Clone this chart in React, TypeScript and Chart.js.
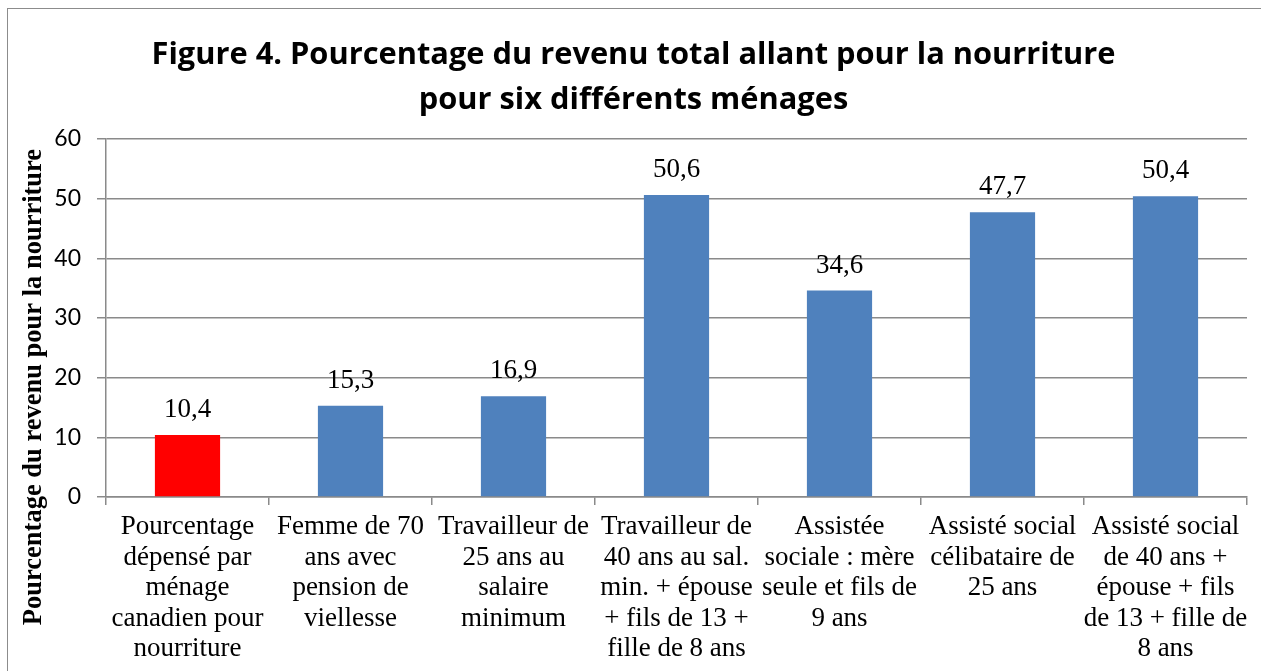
import React, { useEffect, useRef } from "react";
import { Chart, registerables } from "chart.js";

Chart.register(...registerables);

const titleLines = [
  "Figure 4. Pourcentage du revenu total allant pour la nourriture",
  "pour six différents ménages",
];
const yAxisTitle = "Pourcentage du revenu pour la nourriture";
const categories: string[][] = [
  ["Pourcentage", "dépensé par", "ménage", "canadien pour", "nourriture"],
  ["Femme de 70", "ans avec", "pension de", "viellesse"],
  ["Travailleur de", "25 ans au", "salaire", "minimum"],
  ["Travailleur de", "40 ans au sal.", "min. + épouse", "+ fils de 13 +", "fille de 8 ans"],
  ["Assistée", "sociale : mère", "seule et fils de", "9 ans"],
  ["Assisté social", "célibataire de", "25 ans"],
  ["Assisté social", "de 40 ans +", "épouse + fils", "de 13 + fille de", "8 ans"],
];
const values = [10.4, 15.3, 16.9, 50.6, 34.6, 47.7, 50.4];
const barColors = ["#FF0000", "#4F81BD", "#4F81BD", "#4F81BD", "#4F81BD", "#4F81BD", "#4F81BD"];
const yMin = 0;
const yMax = 60;
const yStep = 10;

const W = 1261;
const H = 671;
const GRID = "#8a8a8a";
const SERIF = "'Liberation Serif', 'Times New Roman', serif";
const SANS = "Lato, 'Open Sans', sans-serif";
const TITLE_SANS = "'Open Sans', Lato, sans-serif";

const valueLabels = {
  id: "valueLabels",
  afterDatasetsDraw(chart: any) {
    const ctx = chart.ctx;
    const meta = chart.getDatasetMeta(0);
    ctx.save();
    ctx.font = `27px ${SERIF}`;
    ctx.fillStyle = "#000";
    ctx.textAlign = "center";
    ctx.textBaseline = "alphabetic";
    meta.data.forEach((el: any, i: number) => {
      const v = chart.data.datasets[0].data[i] as number;
      ctx.fillText(v.toFixed(1).replace(".", ","), el.x, el.y - 18);
    });
    ctx.restore();
  },
};

const yTitlePlugin = {
  id: "yTitlePlugin",
  afterDraw(chart: any) {
    const ctx = chart.ctx;
    ctx.save();
    ctx.translate(41, 387);
    ctx.rotate(-Math.PI / 2);
    ctx.font = `bold 26.5px ${SERIF}`;
    ctx.fillStyle = "#000";
    ctx.textAlign = "center";
    ctx.textBaseline = "alphabetic";
    ctx.fillText(yAxisTitle, 0, 0);
    ctx.restore();
  },
};

export default function App() {
  const ref = useRef<HTMLCanvasElement | null>(null);
  useEffect(() => {
    if (!ref.current) return;
    const chart = new Chart(ref.current, {
      type: "bar",
      data: {
        labels: categories,
        datasets: [
          {
            data: values,
            backgroundColor: barColors,
            borderWidth: 0,
            categoryPercentage: 0.4,
            barPercentage: 1,
          },
        ],
      },
      plugins: [valueLabels, yTitlePlugin],
      options: {
        responsive: false,
        animation: false,
        devicePixelRatio: 1,
        layout: { padding: { left: 20, right: 14, top: 0, bottom: 0 } },
        plugins: {
          legend: { display: false },
          tooltip: { enabled: false },
          title: {
            display: true,
            text: titleLines,
            color: "#000",
            font: { family: TITLE_SANS, size: 30.8, weight: "bold", lineHeight: 1.46 },
            padding: { top: 33, bottom: 16 },
          },
        },
        scales: {
          x: {
            offset: true,
            grid: {
              offset: true,
              drawOnChartArea: false,
              drawTicks: true,
              tickLength: 8,
              color: GRID,
              lineWidth: 1.5,
            },
            border: { display: true, color: GRID, width: 1.5 },
            ticks: {
              autoSkip: false,
              maxRotation: 0,
              minRotation: 0,
              padding: 7,
              color: "#000",
              font: { family: SERIF, size: 27, lineHeight: 1.13 },
            },
            afterFit(scale: any) {
              scale.height = 174;
            },
          },
          y: {
            min: yMin,
            max: yMax,
            ticks: {
              stepSize: yStep,
              padding: 16,
              color: "#000",
              font: { family: SANS, size: 23 },
            },
            grid: { color: GRID, lineWidth: 1.5, tickLength: 9 },
            border: { display: true, color: GRID, width: 1.5 },
            title: { display: false },
            afterFit(scale: any) {
              scale.width = 86;
            },
          },
        },
      },
    });
    return () => chart.destroy();
  }, []);
  return (
    <div style={{ position: "fixed", left: 0, top: 0, width: W, height: H, overflow: "hidden", background: "#fff" }}>
      <div
        style={{
          position: "absolute",
          left: 7,
          top: 8,
          width: W + 20,
          height: H + 20,
          border: "1.5px solid #8c8c8c",
          boxSizing: "border-box",
        }}
      />
      <canvas ref={ref} width={W} height={H} style={{ position: "absolute", left: 0, top: 0, width: W, height: H }} />
    </div>
  );
}
